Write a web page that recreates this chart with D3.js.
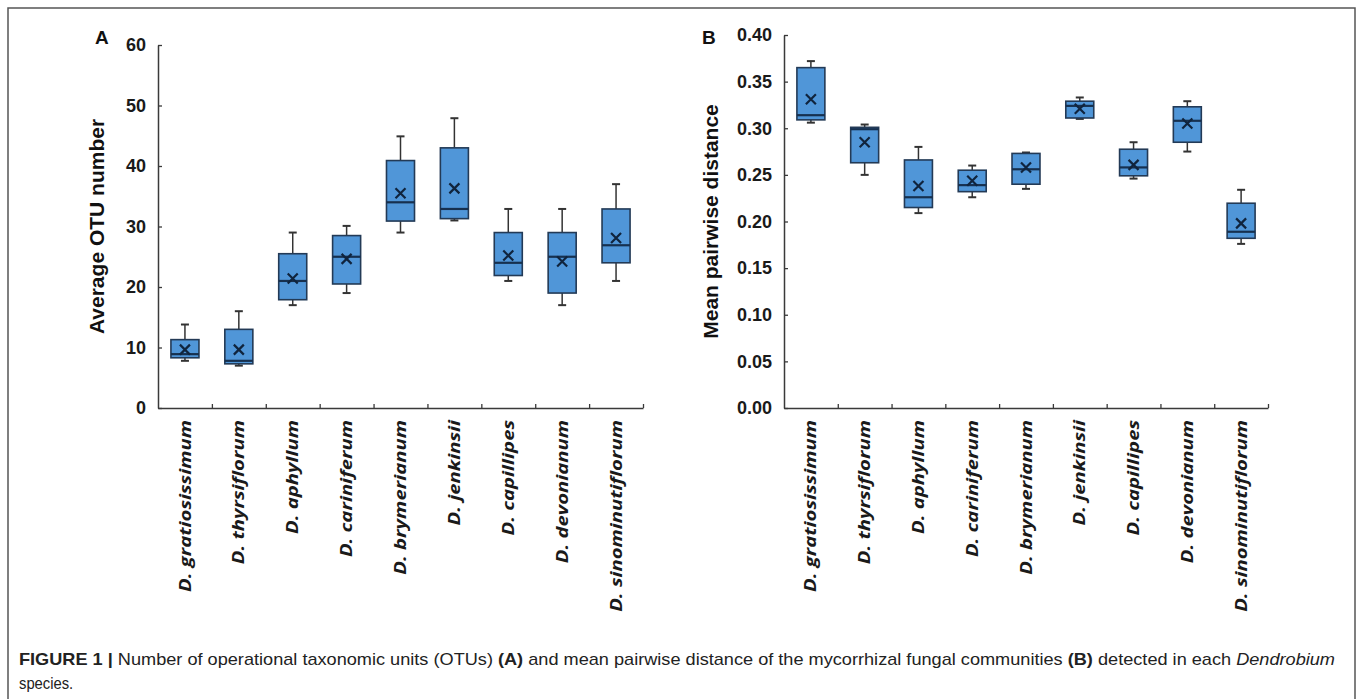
<!DOCTYPE html>
<html>
<head>
<meta charset="utf-8">
<script src="https://cdn.jsdelivr.net/npm/d3@7"></script>
<style>
  html, body { margin: 0; padding: 0; background: #fff; }
  svg { display: block; }
</style>
</head>
<body>
<svg id="chart" width="1360" height="699"></svg>
<script>
// ---------- data ----------
const categories = ["D. gratiosissimum", "D. thyrsiflorum", "D. aphyllum", "D. cariniferum",
  "D. brymerianum", "D. jenkinsii", "D. capillipes", "D. devonianum", "D. sinominutiflorum"];

// Panel A: average OTU number
const otuMin    = [7.8, 7.0, 17.0, 19.0, 29.0, 31.0, 21.0, 17.0, 21.0];
const otuQ1     = [8.3, 7.3, 17.9, 20.5, 30.9, 31.3, 21.9, 19.0, 24.0];
const otuMedian = [8.9, 7.8, 21.0, 25.0, 34.0, 32.9, 24.0, 25.0, 26.9];
const otuQ3     = [11.3, 13.0, 25.5, 28.5, 40.9, 43.0, 29.0, 29.0, 32.9];
const otuMax    = [13.8, 16.0, 29.0, 30.1, 44.9, 47.9, 32.9, 32.9, 37.0];
const otuMean   = [9.65, 9.65, 21.4, 24.65, 35.5, 36.3, 25.2, 24.2, 28.1];
const otuTicks  = [0, 10, 20, 30, 40, 50, 60];

// Panel B: mean pairwise distance
const mpdMin    = [0.306, 0.250, 0.209, 0.226, 0.235, 0.310, 0.246, 0.275, 0.176];
const mpdQ1     = [0.309, 0.263, 0.215, 0.232, 0.240, 0.311, 0.249, 0.285, 0.182];
const mpdMedian = [0.314, 0.299, 0.226, 0.239, 0.256, 0.324, 0.258, 0.308, 0.189];
const mpdQ3     = [0.365, 0.301, 0.266, 0.255, 0.273, 0.329, 0.2775, 0.323, 0.2196];
const mpdMax    = [0.372, 0.304, 0.280, 0.260, 0.274, 0.333, 0.285, 0.329, 0.234];
const mpdMean   = [0.331, 0.285, 0.238, 0.2436, 0.258, 0.321, 0.2607, 0.305, 0.198];
const mpdTicks  = [0, 0.05, 0.10, 0.15, 0.20, 0.25, 0.30, 0.35, 0.40];

// ---------- style ----------
const FILL = "#5096d8";
const EDGE = "#233a56";
const AXIS = "#3a3a3a";
const TICKFONT = "'Liberation Sans', Arial, sans-serif";
const CATFONT = "'Open Sans', 'DejaVu Sans', sans-serif";

const svg = d3.select("#chart");

// figure frame
svg.append("rect").attr("x", 8).attr("y", 8).attr("width", 1347).attr("height", 720)
  .attr("fill", "none").attr("stroke", "#555").attr("stroke-width", 1.5);

function panel(opts) {
  const { x0, x1, yTop, yBot, domain, ticks, fmt, letter, letterX, title, titleX,
          mins, q1s, meds, q3s, maxs, means } = opts;
  const g = svg.append("g");
  const x = d3.scaleBand().domain(categories).range([x0, x1]).paddingInner(0).paddingOuter(0);
  const xi = d3.scaleLinear().domain([0, categories.length]).range([x0, x1]);
  const y = d3.scaleLinear().domain(domain).range([yBot, yTop]);
  const bw = x.bandwidth() * 0.52;

  // y axis
  const ya = g.append("g").attr("transform", `translate(${x0},0)`)
    .call(d3.axisLeft(y).tickValues(ticks).tickFormat(fmt).tickSizeInner(-4).tickSizeOuter(0).tickPadding(12));
  ya.select(".domain").attr("stroke", AXIS).attr("stroke-width", 1.5);
  ya.selectAll(".tick line").attr("stroke", AXIS).attr("stroke-width", 1.3);
  ya.selectAll(".tick text").attr("font-family", TICKFONT).attr("font-weight", "bold")
    .attr("font-size", 18).attr("fill", "#1a1a1a");

  // x axis
  const xa = g.append("g").attr("transform", `translate(0,${yBot})`)
    .call(d3.axisBottom(xi).tickValues(d3.range(1, categories.length + 1)).tickFormat("")
      .tickSizeInner(-4).tickSizeOuter(0));
  xa.select(".domain").attr("stroke", AXIS).attr("stroke-width", 1.5);
  xa.selectAll(".tick line").attr("stroke", AXIS).attr("stroke-width", 1.3);

  // category labels (stretched along their length like the reference)
  const labels = g.append("g").selectAll("text").data(categories).join("text")
    .attr("text-anchor", "end").attr("dy", "0.35em")
    .attr("font-family", CATFONT).attr("font-weight", "bold").attr("font-style", "italic")
    .attr("font-size", 16).attr("fill", "#1a1a1a")
    .text(d => d);
  const natural = labels.nodes()[0].getComputedTextLength();
  const stretch = 172 / natural;
  labels.attr("transform", d => `translate(${x(d) + x.bandwidth() / 2},${yBot + 12}) rotate(-90) scale(${stretch},1)`);

  const data = categories.map((c, i) => ({ c, min: mins[i], q1: q1s[i], med: meds[i], q3: q3s[i], max: maxs[i], mean: means[i] }));
  const boxes = g.append("g").selectAll("g").data(data).join("g")
    .attr("transform", d => `translate(${x(d.c) + x.bandwidth() / 2},0)`);

  // whiskers
  boxes.append("line").attr("x1", 0).attr("x2", 0).attr("y1", d => y(d.max)).attr("y2", d => y(d.q3))
    .attr("stroke", "#333").attr("stroke-width", 1.5);
  boxes.append("line").attr("x1", 0).attr("x2", 0).attr("y1", d => y(d.min)).attr("y2", d => y(d.q1))
    .attr("stroke", "#333").attr("stroke-width", 1.5);
  boxes.append("line").attr("x1", -4).attr("x2", 4).attr("y1", d => y(d.max)).attr("y2", d => y(d.max))
    .attr("stroke", "#333").attr("stroke-width", 2);
  boxes.append("line").attr("x1", -4).attr("x2", 4).attr("y1", d => y(d.min)).attr("y2", d => y(d.min))
    .attr("stroke", "#333").attr("stroke-width", 2);
  // box
  boxes.append("rect").attr("x", -bw / 2).attr("width", bw)
    .attr("y", d => y(d.q3)).attr("height", d => y(d.q1) - y(d.q3))
    .attr("fill", FILL).attr("stroke", EDGE).attr("stroke-width", 1.6);
  // median
  boxes.append("line").attr("x1", -bw / 2).attr("x2", bw / 2)
    .attr("y1", d => y(d.med)).attr("y2", d => y(d.med))
    .attr("stroke", "#16304f").attr("stroke-width", 2.2);
  // mean marker
  const s = 5;
  boxes.append("path")
    .attr("d", d => { const m = y(d.mean); return `M${-s},${m - s}L${s},${m + s}M${-s},${m + s}L${s},${m - s}`; })
    .attr("stroke", "#10243d").attr("stroke-width", 2.2).attr("fill", "none");

  // letter
  svg.append("text").attr("x", letterX).attr("y", 44)
    .attr("font-family", TICKFONT).attr("font-weight", "bold").attr("font-size", 19).attr("fill", "#111")
    .text(letter);
  // y title
  svg.append("text").attr("transform", `translate(${titleX},${(yTop + yBot) / 2}) rotate(-90)`)
    .attr("text-anchor", "middle").attr("dy", "0.35em")
    .attr("font-family", TICKFONT).attr("font-weight", "bold").attr("font-size", 21).attr("fill", "#111")
    .text(title);
}

panel({ x0: 158, x1: 643, yTop: 45, yBot: 408, domain: [0, 60], ticks: otuTicks, fmt: d3.format("d"),
  letter: "A", letterX: 95, title: "Average OTU number", titleX: 97,
  mins: otuMin, q1s: otuQ1, meds: otuMedian, q3s: otuQ3, maxs: otuMax, means: otuMean });

panel({ x0: 784, x1: 1268, yTop: 35, yBot: 408, domain: [0, 0.4], ticks: mpdTicks, fmt: d3.format(".2f"),
  letter: "B", letterX: 702, title: "Mean pairwise distance", titleX: 711,
  mins: mpdMin, q1s: mpdQ1, meds: mpdMedian, q3s: mpdQ3, maxs: mpdMax, means: mpdMean });

// caption
const CAPFONT = "'Liberation Sans Narrow', 'Arial Narrow', 'Liberation Sans', sans-serif";
const cap1 = svg.append("text").attr("x", 19).attr("y", 665)
  .attr("font-family", CAPFONT).attr("font-size", 17).attr("fill", "#222");
cap1.append("tspan").attr("font-weight", "bold").text("FIGURE 1 | ");
cap1.append("tspan").text("Number of operational taxonomic units (OTUs) ");
cap1.append("tspan").attr("font-weight", "bold").text("(A)");
cap1.append("tspan").text(" and mean pairwise distance of the mycorrhizal fungal communities ");
cap1.append("tspan").attr("font-weight", "bold").text("(B)");
cap1.append("tspan").text(" detected in each ");
cap1.append("tspan").attr("font-style", "italic").text("Dendrobium");
cap1.attr("textLength", 1316).attr("lengthAdjust", "spacingAndGlyphs");

svg.append("text").attr("x", 19).attr("y", 689)
  .attr("font-family", CAPFONT).attr("font-size", 17).attr("fill", "#222")
  .attr("transform", "translate(19,0) scale(0.87,1) translate(-19,0)")
  .text("species.");
</script>
</body>
</html>
